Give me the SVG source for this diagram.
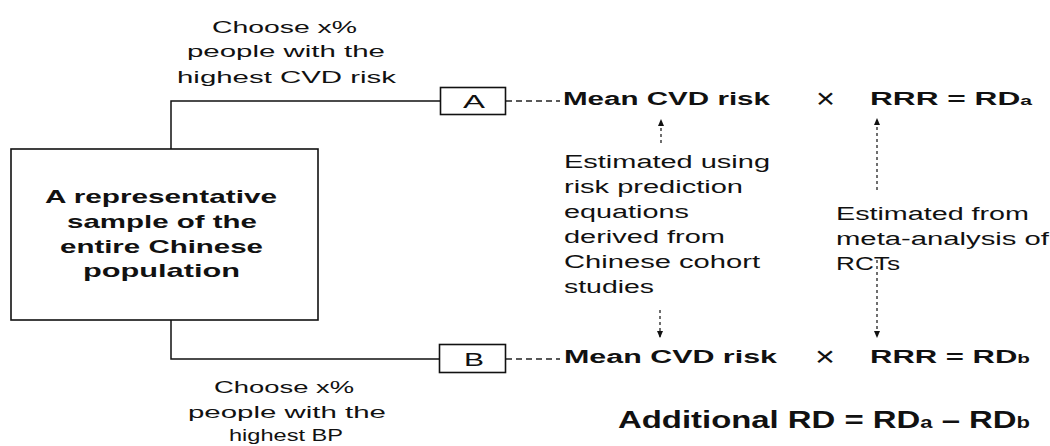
<svg xmlns="http://www.w3.org/2000/svg" width="1050" height="446" viewBox="0 0 1050 446">
<defs>
<style>
.t{font-family:"Liberation Sans",Arial,sans-serif;fill:#111;}
.r{font-size:17px;}
.m{font-size:18px;}
.b{font-weight:bold;}
.x{font-size:27px;}
.solid{fill:none;stroke:#111;stroke-width:1.5;}
.box{fill:#fff;stroke:#111;stroke-width:1.6;}
.dash{fill:none;stroke:#222;stroke-width:1.3;stroke-dasharray:6 4;}
.dot{fill:none;stroke:#222;stroke-width:1.3;stroke-dasharray:3 3;}
</style>
<marker id="ah" markerUnits="userSpaceOnUse" markerWidth="8" markerHeight="8" refX="7" refY="4" orient="auto">
<path d="M0,1 L7,4 L0,7 Z" fill="#111"/>
</marker>
</defs>
<rect width="1050" height="446" fill="#fff"/>

<g id="connectors">
<path class="solid" d="M171,149 V101 H440"/>
<path class="solid" d="M171,320 V359 H439"/>
<path class="dash" d="M506,101 H560"/>
<path class="dash" d="M506,359 H560"/>
<path class="dot" d="M661,143 V119" marker-end="url(#ah)"/>
<path class="dot" d="M660,310 V338" marker-end="url(#ah)"/>
<path class="dot" d="M877,190 V118" marker-end="url(#ah)"/>
<path class="dot" d="M877,260 V338" marker-end="url(#ah)"/>
</g>

<g id="label-top">
<text class="t r" x="212" y="33" textLength="145" lengthAdjust="spacingAndGlyphs">Choose x%</text>
<text class="t r" x="187" y="57" textLength="198" lengthAdjust="spacingAndGlyphs">people with the</text>
<text class="t r" x="177" y="83" textLength="219" lengthAdjust="spacingAndGlyphs">highest CVD risk</text>
</g>

<g id="population">
<rect class="box" x="11" y="149" width="307" height="171"/>
<text class="t b" style="font-size:19px" x="45" y="203" textLength="232" lengthAdjust="spacingAndGlyphs">A representative</text>
<text class="t b" style="font-size:19px" x="67" y="228" textLength="190" lengthAdjust="spacingAndGlyphs">sample of the</text>
<text class="t b" style="font-size:19px" x="60" y="253" textLength="203" lengthAdjust="spacingAndGlyphs">entire Chinese</text>
<text class="t b" style="font-size:19px" x="83" y="277" textLength="157" lengthAdjust="spacingAndGlyphs">population</text>
</g>

<g id="label-bottom">
<text class="t r" x="214" y="393" textLength="140" lengthAdjust="spacingAndGlyphs">Choose x%</text>
<text class="t r" x="188" y="418" textLength="198" lengthAdjust="spacingAndGlyphs">people with the</text>
<text class="t r" x="229" y="441" textLength="114" lengthAdjust="spacingAndGlyphs">highest BP</text>
</g>

<g id="box-a">
<rect class="box" x="440.5" y="87.5" width="65" height="27"/>
<text class="t m" x="463" y="108" textLength="22" lengthAdjust="spacingAndGlyphs">A</text>
</g>

<g id="box-b">
<rect class="box" x="439.5" y="344.5" width="66" height="28"/>
<text class="t m" x="464" y="366" textLength="20" lengthAdjust="spacingAndGlyphs">B</text>
</g>

<g id="formula-a">
<text class="t m b" x="563" y="105" textLength="207" lengthAdjust="spacingAndGlyphs">Mean CVD risk</text>
<text class="t x" x="816" y="108" textLength="19" lengthAdjust="spacingAndGlyphs">×</text>
<text class="t m b" x="870" y="105" textLength="162" lengthAdjust="spacingAndGlyphs">RRR = RD<tspan style="font-size:12px">a</tspan></text>
</g>

<g id="formula-b">
<text class="t m b" x="564" y="363" textLength="213" lengthAdjust="spacingAndGlyphs">Mean CVD risk</text>
<text class="t x" x="815" y="366" textLength="20" lengthAdjust="spacingAndGlyphs">×</text>
<text class="t m b" x="870" y="363" textLength="160" lengthAdjust="spacingAndGlyphs">RRR = RD<tspan style="font-size:12px">b</tspan></text>
</g>

<g id="note-risk">
<text class="t m" x="564" y="168" textLength="206" lengthAdjust="spacingAndGlyphs">Estimated using</text>
<text class="t m" x="564" y="193" textLength="179" lengthAdjust="spacingAndGlyphs">risk prediction</text>
<text class="t m" x="564" y="218" textLength="125" lengthAdjust="spacingAndGlyphs">equations</text>
<text class="t m" x="564" y="243" textLength="161" lengthAdjust="spacingAndGlyphs">derived from</text>
<text class="t m" x="564" y="268" textLength="196" lengthAdjust="spacingAndGlyphs">Chinese cohort</text>
<text class="t m" x="564" y="293" textLength="90" lengthAdjust="spacingAndGlyphs">studies</text>
</g>

<g id="note-rrr">
<text class="t m" x="836" y="220" textLength="193" lengthAdjust="spacingAndGlyphs">Estimated from</text>
<text class="t m" x="836" y="245" textLength="213" lengthAdjust="spacingAndGlyphs">meta-analysis of</text>
<text class="t m" x="836" y="270" textLength="64" lengthAdjust="spacingAndGlyphs">RCTs</text>
</g>

<g id="additional-rd">
<text class="t b" style="font-size:24px" x="618" y="428" textLength="412" lengthAdjust="spacingAndGlyphs">Additional RD = RD<tspan style="font-size:16px">a</tspan> – RD<tspan style="font-size:16px">b</tspan></text>
</g>
</svg>
